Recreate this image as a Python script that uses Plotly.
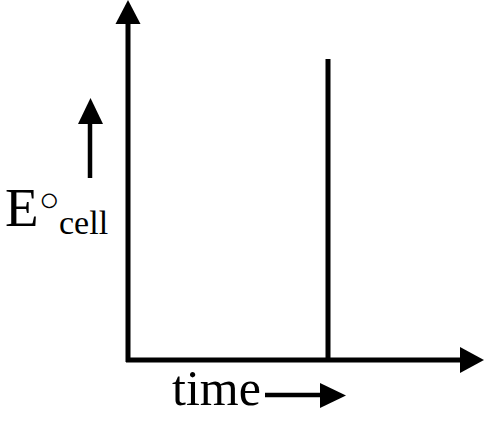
import plotly.graph_objects as go

# diagram "data" (pixel-like coordinate space, y downward)
origin = [128, 360]          # where axes meet
y_axis_top = 0               # tip of y arrow
x_axis_right = 484           # tip of x arrow
step_time = [328]            # time at which E°cell drops
step_height = [59]           # level before drop
head_len = 24
head_half = 12.5

fig = go.Figure()
blk = "black"

def tri(pts):
    xs = [p[0] for p in pts] + [pts[0][0]]
    ys = [p[1] for p in pts] + [pts[0][1]]
    fig.add_trace(go.Scatter(x=xs, y=ys, mode="lines", fill="toself",
                             fillcolor=blk, line=dict(color=blk, width=0),
                             hoverinfo="skip", showlegend=False))

def seg(x0, y0, x1, y1, w=5):
    fig.add_trace(go.Scatter(x=[x0, x1], y=[y0, y1], mode="lines",
                             line=dict(color=blk, width=w),
                             hoverinfo="skip", showlegend=False))

ox, oy = origin
# y axis
seg(ox, oy + 2, ox, y_axis_top + head_len - 2)
tri([(ox - head_half, y_axis_top + head_len), (ox + head_half, y_axis_top + head_len), (ox, y_axis_top)])
# x axis
seg(ox - 2, oy, x_axis_right - head_len + 2, oy)
tri([(x_axis_right - head_len, oy - 13), (x_axis_right - head_len, oy + 13), (x_axis_right, oy)])
# vertical step line
for t, h in zip(step_time, step_height):
    seg(t, h, t, oy)

# small E arrow
seg(90, 178, 90, 122, 4.5)
tri([(78, 124), (103, 124), (90.5, 98)])
# small time arrow
seg(265, 395, 322, 395, 4.5)
tri([(320, 383), (320, 408), (346, 395.5)])

serif = "Liberation Serif"
fig.add_annotation(x=3, y=240, text="E", showarrow=False, xanchor="left", yanchor="bottom",
                   font=dict(family=serif, size=55, color=blk))
fig.add_annotation(x=37, y=220, text="○", showarrow=False, xanchor="left", yanchor="bottom",
                   font=dict(family=serif, size=34, color=blk))
fig.add_annotation(x=57, y=243, text="cell", showarrow=False, xanchor="left", yanchor="bottom",
                   font=dict(family=serif, size=34, color=blk))
fig.add_annotation(x=170, y=418, text="time", showarrow=False, xanchor="left", yanchor="bottom",
                   font=dict(family=serif, size=50, color=blk))

fig.update_layout(width=493, height=422, margin=dict(l=0, r=0, t=0, b=0),
                  paper_bgcolor="white", plot_bgcolor="white",
                  xaxis=dict(range=[0, 493], visible=False, fixedrange=True),
                  yaxis=dict(range=[422, 0], visible=False, fixedrange=True))
fig.write_html("out.html", config={"displayModeBar": False},
               post_script="document.body.style.margin='0';document.body.style.padding='0';")
